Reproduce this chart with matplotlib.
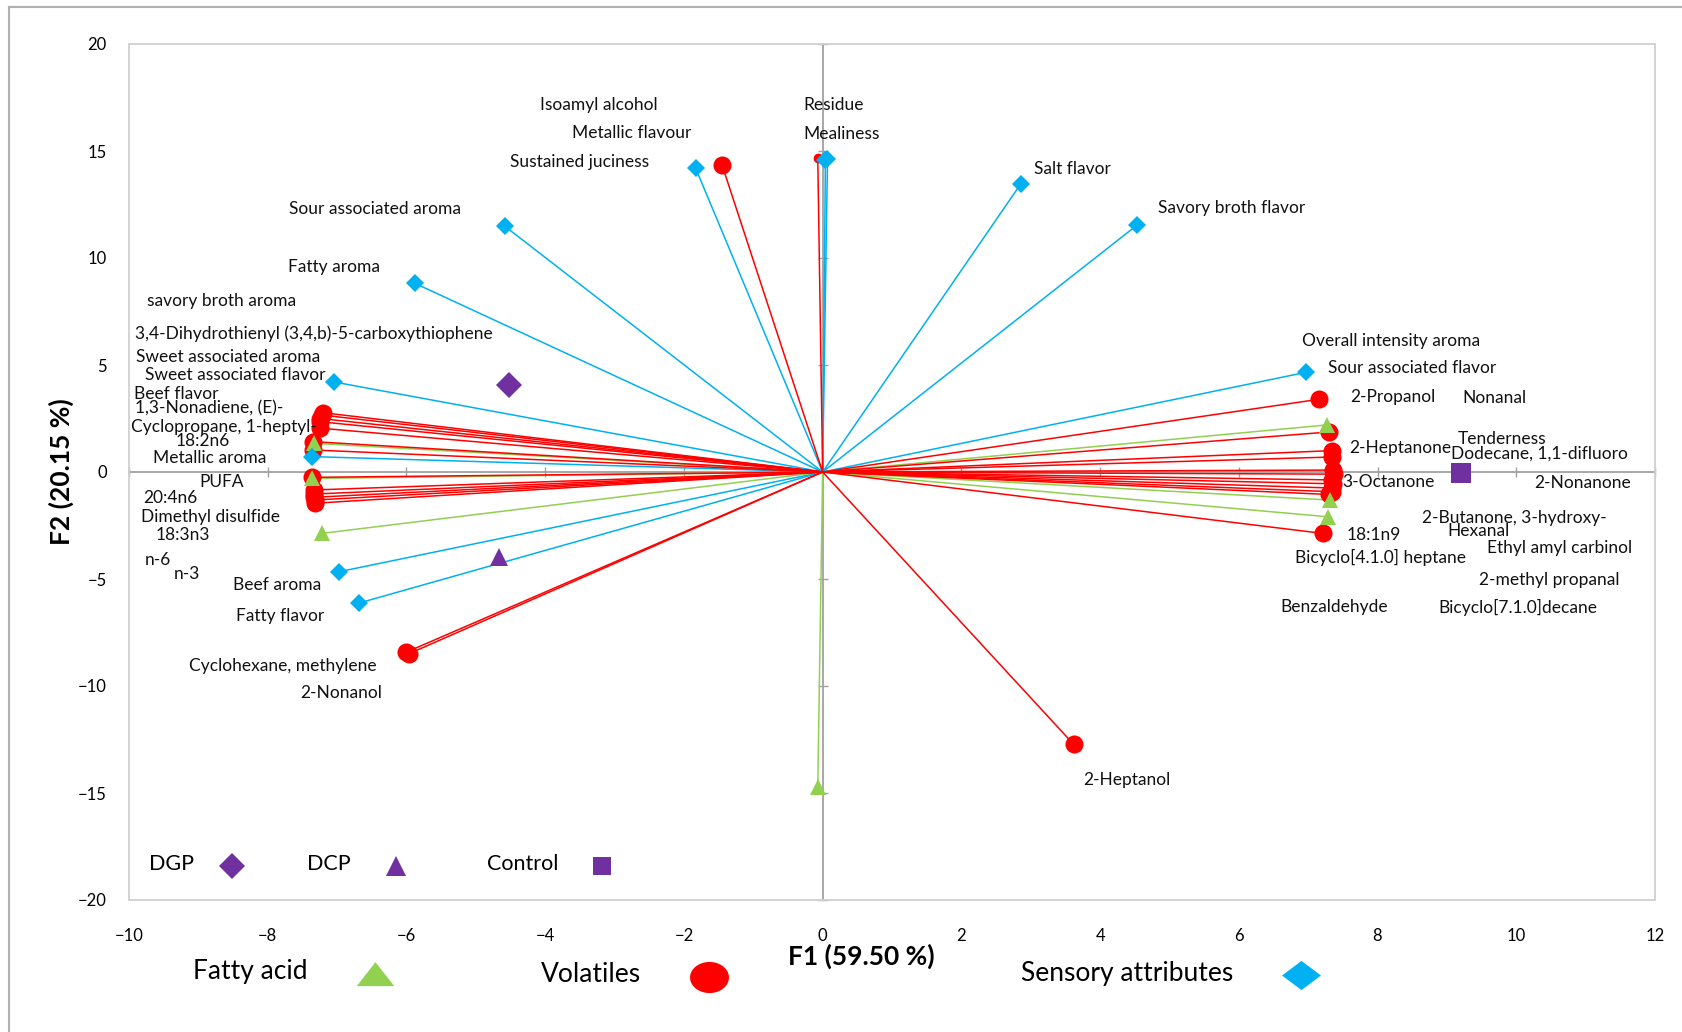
import matplotlib
matplotlib.use("Agg")
import matplotlib.pyplot as plt
from matplotlib.lines import Line2D
import numpy as np

plt.rcParams['font.family'] = ['Lato', 'DejaVu Sans']

# ---- PCA loadings (F1, F2) ----
fatty_f1 = [7.27, 7.31, 7.28, -0.07, -7.34, -7.36, -7.22]
fatty_f2 = [2.20, -1.31, -2.09, -14.70, 1.34, -0.30, -2.87]

volatile_f1 = [7.16, 7.30, 7.35, 7.34, 7.36, 7.37, 7.35, 7.36, 7.35, 7.34, 7.30, 7.21,
               3.62, -1.45, -0.07,
               -7.20, -7.22, -7.25, -7.25, -7.25, -7.35, -7.35, -7.36,
               -7.33, -7.33, -7.33, -7.32, -7.32, -6.01, -5.97]
volatile_f2 = [3.40, 1.87, 1.00, 0.70, 0.09, -0.10, -0.37, -0.55, -0.75, -0.92, -1.05, -2.87,
               -12.73, 14.35, 14.66,
               2.77, 2.66, 2.50, 2.35, 2.05, 1.42, 1.03, -0.25,
               -0.84, -1.03, -1.18, -1.31, -1.46, -8.43, -8.50]

sensory_f1 = [-1.83, 0.07, 0.04, 2.86, 4.53, -4.58, -5.88, -7.05, -7.36, -6.97, -6.68, 6.97]
sensory_f2 = [14.19, 14.63, 14.58, 13.48, 11.53, 11.48, 8.82, 4.21, 0.72, -4.66, -6.12, 4.66]

# ---- treatment scores ----
treatments = ['DGP', 'DCP', 'Control']
treat_f1 = [-4.52, -4.67, 9.20]
treat_f2 = [4.06, -3.96, -0.05]

# ---- variable names ----
label_text = [
    'Isoamyl alcohol', 'Metallic flavour', 'Sustained juciness', 'Residue', 'Mealiness',
    'Salt flavor', 'Savory broth flavor', 'Sour associated aroma', 'Fatty aroma',
    'savory broth aroma', '3,4-Dihydrothienyl (3,4,b)-5-carboxythiophene',
    'Sweet associated aroma', 'Sweet associated flavor', 'Beef flavor',
    '1,3-Nonadiene, (E)-', 'Cyclopropane, 1-heptyl-', '18:2n6', 'Metallic aroma',
    'PUFA', '20:4n6', 'Dimethyl disulfide', '18:3n3', 'n-6', 'n-3', 'Beef aroma',
    'Fatty flavor', 'Cyclohexane, methylene', '2-Nonanol',
    'Overall intensity aroma', 'Sour associated flavor', '2-Propanol', 'Nonanal',
    '2-Heptanone', 'Tenderness', 'Dodecane, 1,1-difluoro', '3-Octanone', '2-Nonanone',
    '2-Butanone, 3-hydroxy-', 'Hexanal', '18:1n9', 'Ethyl amyl carbinol',
    'Bicyclo[4.1.0] heptane', '2-methyl propanal', 'Benzaldehyde',
    'Bicyclo[7.1.0]decane', '2-Heptanol']

# label centres, in axis units
label_pos = [
    (-3.23, 17.14), (-2.75, 15.84), (-3.51, 14.49), (0.155, 17.14), (0.28, 15.79),
    (3.60, 14.14), (5.89, 12.33), (-6.46, 12.28), (-7.04, 9.57),
    (-8.67, 7.97), (-7.33, 6.47),
    (-8.57, 5.36), (-8.47, 4.51), (-9.32, 3.66),
    (-8.84, 2.96), (-8.63, 2.11), (-8.94, 1.45), (-8.83, 0.65),
    (-8.66, -0.45), (-9.40, -1.20), (-8.83, -2.10), (-9.23, -2.96), (-9.59, -4.11),
    (-9.17, -4.76), (-7.87, -5.26),
    (-7.82, -6.72), (-7.78, -9.07), (-6.94, -10.33),
    (8.20, 6.12), (8.50, 4.86), (8.22, 3.51), (9.68, 3.46),
    (8.33, 1.10), (9.80, 1.55), (10.34, 0.85), (8.16, -0.45), (10.95, -0.50),
    (9.97, -2.16), (9.46, -2.76), (7.95, -2.96), (10.62, -3.56),
    (8.04, -4.01), (10.47, -5.06), (7.38, -6.32),
    (10.02, -6.32), (4.38, -14.39)]

x_ticks = list(range(-10, 13, 2))
y_ticks = list(range(-20, 21, 5))

# ---- styling ----
GREEN = '#92D050'
RED = '#FF0000'
BLUE = '#00B0F0'
PURPLE = '#7030A0'
AXIS_GREY = '#A0A0A0'
FRAME_GREY = '#D0D0D0'

W, H = 1682, 1032
fig = plt.figure(figsize=(W / 100, H / 100), dpi=100)
pos = [129 / W, 1 - 900 / H, (1655 - 129) / W, (900 - 44) / H]

ax = fig.add_axes(pos)
axz = fig.add_axes(pos, sharex=ax, sharey=ax)
axz.set_zorder(0)
ax.set_zorder(1)
ax.patch.set_alpha(0)

ax.set_xlim(-10, 12)
ax.set_ylim(-20, 20)
ax.set_xticks(x_ticks)
ax.set_yticks(y_ticks)
ax.tick_params(length=0, labelsize=12, colors='#000000')
ax.tick_params(axis='y', pad=16)
ax.tick_params(axis='x', pad=20)
for s in ax.spines.values():
    s.set_color(FRAME_GREY)
    s.set_linewidth(1.3)

# zero axes with cross ticks
axz.patch.set_facecolor('white')
for s in ['top', 'right']:
    axz.spines[s].set_visible(False)
for s in ['left', 'bottom']:
    axz.spines[s].set_position(('data', 0))
    axz.spines[s].set_color(AXIS_GREY)
    axz.spines[s].set_linewidth(1.3)
axz.tick_params(direction='inout', length=7, width=1.0, color=AXIS_GREY,
                labelleft=False, labelbottom=False)

LW = 1.1
# vectors from origin
for x, y in zip(sensory_f1, sensory_f2):
    ax.plot([0, x], [0, y], color=BLUE, lw=LW, zorder=2)
for x, y in zip(fatty_f1, fatty_f2):
    ax.plot([0, x], [0, y], color=GREEN, lw=LW, zorder=2)
for x, y in zip(volatile_f1, volatile_f2):
    ax.plot([0, x], [0, y], color=RED, lw=LW, zorder=2)

tri = '^'
vol_ms = [13] * len(volatile_f1)
vol_ms[14] = 7
for x, y, ms in zip(volatile_f1, volatile_f2, vol_ms):
    ax.plot(x, y, 'o', color=RED, ms=ms, mew=0, zorder=3)
ax.plot(fatty_f1, fatty_f2, tri, color=GREEN, ms=12, mew=0, ls='none', zorder=4)
ax.plot(sensory_f1, sensory_f2, 'D', color=BLUE, ms=9.5, mew=0, ls='none', zorder=5)

treat_markers = ['D', '^', 's']
treat_ms = [13, 13, 14]
for x, y, m, ms in zip(treat_f1, treat_f2, treat_markers, treat_ms):
    ax.plot(x, y, m, color=PURPLE, ms=ms, mew=0, zorder=5)

for t, (x, y) in zip(label_text, label_pos):
    ax.text(x, y, t, ha='center', va='center', fontsize=12.5, color='#111111', zorder=6)

# ---- legends ----
def fx(px):
    return px / W


def fy(py):
    return 1 - py / H


def key(px, py, marker, ms, color):
    fig.add_artist(Line2D([fx(px)], [fy(py)], marker=marker, ms=ms, color=color,
                          mew=0, ls='none', transform=fig.transFigure))


for name, tx, kx, m, ms in zip(treatments, [171.6, 329.3, 522.4], [231.7, 395.8, 601.8],
                              ['D', '^', 's'], [13, 14, 13]):
    fig.text(fx(tx), fy(864), name, ha='center', va='center', fontsize=15.5)
    key(kx, 866, m, ms, PURPLE)

wide_tri = [(-1, -0.62), (1, -0.62), (0, 0.66)]
t_ell = np.linspace(0, 2 * np.pi, 60)
wide_circ = list(zip(np.cos(t_ell), 0.8 * np.sin(t_ell)))
wide_dia = [(1, 0), (0, 0.75), (-1, 0), (0, -0.75)]

fig.text(fx(250), fy(971), 'Fatty acid', ha='center', va='center', fontsize=19)
key(375, 974, wide_tri, 27, GREEN)
fig.text(fx(591), fy(974), 'Volatiles', ha='center', va='center', fontsize=19)
key(709, 977, wide_circ, 28, RED)
fig.text(fx(1127), fy(973), 'Sensory attributes', ha='center', va='center', fontsize=19)
key(1301, 975, wide_dia, 28, BLUE)

fig.text(fx(861), fy(956), 'F1 (59.50 %)', ha='center', va='center', fontsize=19,
         fontweight='bold', fontstretch='condensed')
fig.text(fx(61), fy(472), 'F2 (20.15 %)', ha='center', va='center', fontsize=19,
         fontweight='bold', rotation=90)

# outer frame
fig.add_artist(Line2D([fx(9), fx(9)], [0, fy(7)], color='#B0B0B0', lw=1.5,
                      transform=fig.transFigure))
fig.add_artist(Line2D([fx(9), 1], [fy(7), fy(7)], color='#B0B0B0', lw=1.5,
                      transform=fig.transFigure))

fig.savefig('out.png', dpi=100)
